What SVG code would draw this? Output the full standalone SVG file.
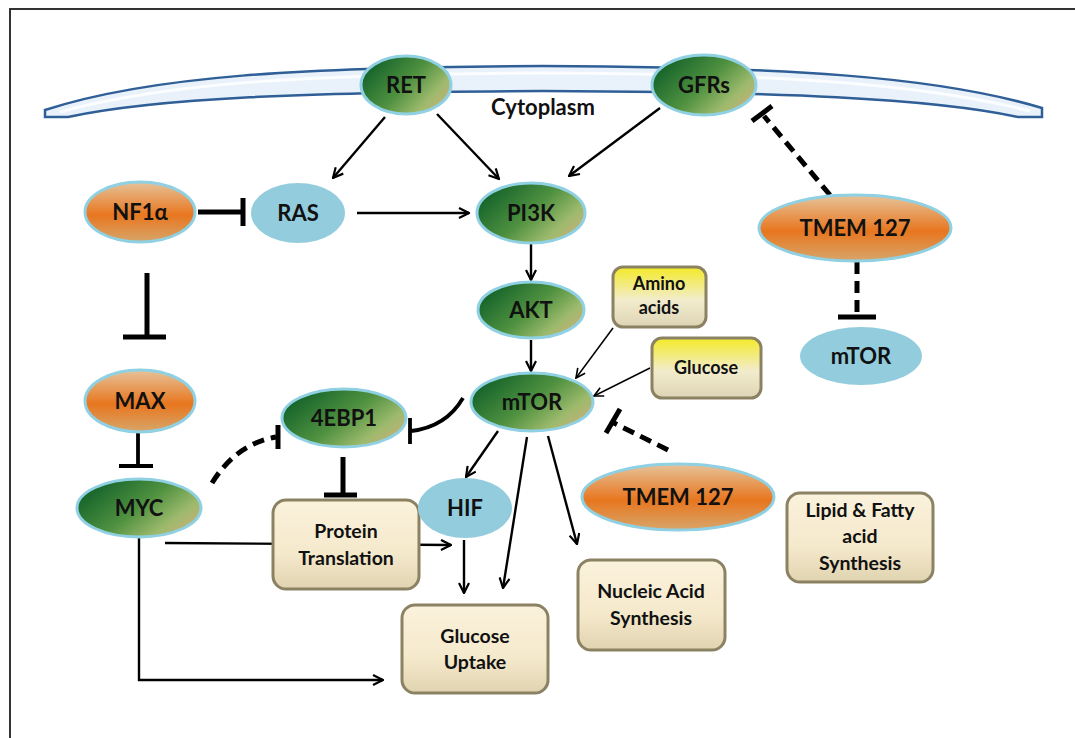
<svg xmlns="http://www.w3.org/2000/svg" width="1075" height="738" viewBox="0 0 1075 738">
<defs>
<linearGradient id="gGreen" x1="0" y1="0.3" x2="1" y2="0.9">
<stop offset="0" stop-color="#13622a"/>
<stop offset="0.45" stop-color="#4f9140"/>
<stop offset="0.75" stop-color="#9dba6c"/>
<stop offset="1" stop-color="#d2ac7c"/>
</linearGradient>
<linearGradient id="gOrange" x1="0" y1="0" x2="0" y2="1">
<stop offset="0" stop-color="#e6c39a"/>
<stop offset="0.55" stop-color="#e8761f"/>
<stop offset="1" stop-color="#d7a66a"/>
</linearGradient>
<linearGradient id="gYellow" x1="0" y1="0" x2="0" y2="1">
<stop offset="0" stop-color="#f3ea27"/>
<stop offset="0.55" stop-color="#f2eccc"/>
<stop offset="1" stop-color="#ddd4b6"/>
</linearGradient>
<linearGradient id="gBeige" x1="0" y1="0" x2="0" y2="1">
<stop offset="0" stop-color="#fbf2dc"/>
<stop offset="0.6" stop-color="#f5e9cc"/>
<stop offset="1" stop-color="#e0d3b0"/>
</linearGradient>
<marker id="arr" viewBox="0 0 12 12" refX="11" refY="6" markerWidth="12" markerHeight="12" markerUnits="userSpaceOnUse" orient="auto">
<path d="M1,1 L11,6 L1,11" fill="none" stroke="#000" stroke-width="2.2"/>
</marker>
<marker id="arrS" viewBox="0 0 12 12" refX="11" refY="6" markerWidth="11" markerHeight="11" markerUnits="userSpaceOnUse" orient="auto">
<path d="M1,1 L11,6 L1,11" fill="none" stroke="#000" stroke-width="1.8"/>
</marker>
<style>
.t{font-family:Lato,"Liberation Sans",sans-serif;font-weight:bold;fill:#111;text-anchor:middle}
.n{font-size:22px}
.b{font-size:19.5px}
.y{font-size:18px}
.g{fill:url(#gGreen);stroke:#8fd0e3;stroke-width:3}
.o{fill:url(#gOrange);stroke:#8fd0e3;stroke-width:3}
.bl{fill:#93cddd;stroke:none}
.box{fill:url(#gBeige);stroke:#8b8163;stroke-width:3}
.ybox{fill:url(#gYellow);stroke:#8b8163;stroke-width:3}
.a{fill:none;stroke:#000;stroke-width:2.4}
.as{fill:none;stroke:#000;stroke-width:1.5}
.inh{fill:none;stroke:#000;stroke-width:5}
.inh2{fill:none;stroke:#000;stroke-width:3.8}
.dash{fill:none;stroke:#000;stroke-width:5;stroke-dasharray:12 7}
</style>
</defs>
<rect width="1075" height="738" fill="#fff"/>
<path d="M10,738 L10,9 L1075,9" fill="none" stroke="#333" stroke-width="2"/>
<g id="membrane">
<path d="M45,110 C150,76 300,67 543,66 C786,67 936,76 1042,108 L1042,117 L1018,117 C930,98 780,92 543,91 C306,92 156,98 68,117 L45,117 Z" fill="#e9f2fb" stroke="#2f5f96" stroke-width="2.5"/>
<path d="M60,112 C170,82 320,74 543,73 C766,74 916,82 1030,111" fill="none" stroke="#ffffff" stroke-width="3" opacity="0.8"/>
<text class="t" x="543" y="115" font-size="22">Cytoplasm</text>
</g>
<g id="connectors">
<line class="a" x1="385" y1="117" x2="333" y2="178" marker-end="url(#arr)"/>
<line class="a" x1="437" y1="114" x2="499" y2="179" marker-end="url(#arr)"/>
<line class="a" x1="660" y1="108" x2="569" y2="176" marker-end="url(#arr)"/>
<line class="a" x1="357" y1="213" x2="469" y2="213" marker-end="url(#arr)"/>
<line class="a" x1="531" y1="244" x2="531" y2="280" marker-end="url(#arr)"/>
<line class="a" x1="531" y1="340" x2="531" y2="371" marker-end="url(#arr)"/>
<line class="as" x1="613" y1="328" x2="576" y2="378" marker-end="url(#arrS)"/>
<line class="as" x1="650" y1="368" x2="594" y2="396" marker-end="url(#arrS)"/>
<line class="a" x1="498" y1="431" x2="466" y2="477" marker-end="url(#arr)"/>
<line class="a" x1="527" y1="437" x2="503" y2="588" marker-end="url(#arr)"/>
<line class="a" x1="548" y1="436" x2="577" y2="544" marker-end="url(#arr)"/>
<line class="a" x1="464" y1="540" x2="464" y2="593" marker-end="url(#arr)"/>
<line class="a" x1="165" y1="543" x2="451" y2="545" marker-end="url(#arr)"/>
<path class="a" d="M139,538 L139,680 L383,680" marker-end="url(#arr)"/>
<path class="inh" d="M198,212 L243,212 M243,198 L243,226"/>
<path class="inh" d="M147,273 L147,337 M123,337 L166,337"/>
<path class="inh2" d="M138,433 L138,466 M119,466 L153,466"/>
<path class="inh" d="M343,457 L343,495 M324,495 L357,495"/>
<path class="inh2" d="M463,398 Q446,427 411,431 M410,418 L410,444"/>
<path class="dash" d="M212,483 Q236,444 276,437" stroke-dasharray="9 6"/>
<path class="inh" d="M278,425 L278,449"/>
<path class="dash" d="M668,450 L614,423"/>
<path class="inh" d="M606,433 L620,409"/>
<path class="dash" d="M830,195 L764,116"/>
<path class="inh" d="M752,121 L772,106"/>
<path class="dash" d="M857,262 L857,317" stroke-dasharray="10 5 4 5"/>
<path class="inh" d="M838,317 L876,317"/>
</g>
<g id="RET"><ellipse class="g" cx="406" cy="85" rx="45" ry="29"/><text class="t n" x="406" y="93">RET</text></g>
<g id="GFRs"><ellipse class="g" cx="704" cy="85" rx="52" ry="30"/><text class="t n" x="704" y="93">GFRs</text></g>
<g id="NF1a"><ellipse class="o" cx="140" cy="212" rx="55" ry="30"/><text class="t n" x="140" y="220">NF1α</text></g>
<g id="RAS"><ellipse class="bl" cx="298" cy="213" rx="47" ry="30"/><text class="t n" x="298" y="221">RAS</text></g>
<g id="PI3K"><ellipse class="g" cx="531" cy="213" rx="54" ry="30"/><text class="t n" x="531" y="221">PI3K</text></g>
<g id="AKT"><ellipse class="g" cx="531" cy="310" rx="53" ry="28"/><text class="t n" x="531" y="318">AKT</text></g>
<g id="mTOR"><ellipse class="g" cx="532" cy="402" rx="61" ry="29"/><text class="t n" x="532" y="410">mTOR</text></g>
<g id="AminoAcids"><rect class="ybox" x="613" y="267" width="93" height="60" rx="10"/><text class="t y" x="659" y="290">Amino</text><text class="t y" x="659" y="314">acids</text></g>
<g id="Glucose"><rect class="ybox" x="652" y="338" width="109" height="60" rx="10"/><text class="t y" x="706" y="374">Glucose</text></g>
<g id="TMEM127a"><ellipse class="o" cx="855" cy="228" rx="96" ry="33"/><text class="t" x="855" y="236" font-size="22">TMEM 127</text></g>
<g id="mTOR2"><ellipse class="bl" cx="861" cy="356" rx="61" ry="29"/><text class="t n" x="861" y="364">mTOR</text></g>
<g id="MAX"><ellipse class="o" cx="140" cy="401" rx="55" ry="31"/><text class="t n" x="140" y="409">MAX</text></g>
<g id="MYC"><ellipse class="g" cx="139" cy="508" rx="62" ry="29"/><text class="t n" x="139" y="516">MYC</text></g>
<g id="4EBP1"><ellipse class="g" cx="344" cy="418" rx="62" ry="29"/><text class="t n" x="344" y="426">4EBP1</text></g>
<g id="ProteinTranslation"><rect class="box" x="273" y="500" width="146" height="89" rx="13"/><text class="t b" x="346" y="538">Protein</text><text class="t b" x="346" y="565">Translation</text></g>
<g id="HIF"><ellipse class="bl" cx="465" cy="508" rx="47" ry="30"/><text class="t n" x="465" y="516">HIF</text></g>
<g id="GlucoseUptake"><rect class="box" x="402" y="605" width="146" height="88" rx="13"/><text class="t b" x="475" y="643">Glucose</text><text class="t b" x="475" y="669">Uptake</text></g>
<g id="NucleicAcid"><rect class="box" x="578" y="560" width="147" height="90" rx="13"/><text class="t b" x="651" y="598">Nucleic Acid</text><text class="t b" x="651" y="625">Synthesis</text></g>
<g id="TMEM127b"><ellipse class="o" cx="678" cy="497" rx="96" ry="33"/><text class="t" x="678" y="505" font-size="22">TMEM 127</text></g>
<g id="LipidFatty"><rect class="box" x="787" y="493" width="146" height="89" rx="13"/><text class="t b" x="860" y="517">Lipid &amp; Fatty</text><text class="t b" x="860" y="543">acid</text><text class="t b" x="860" y="570">Synthesis</text></g>
</svg>
